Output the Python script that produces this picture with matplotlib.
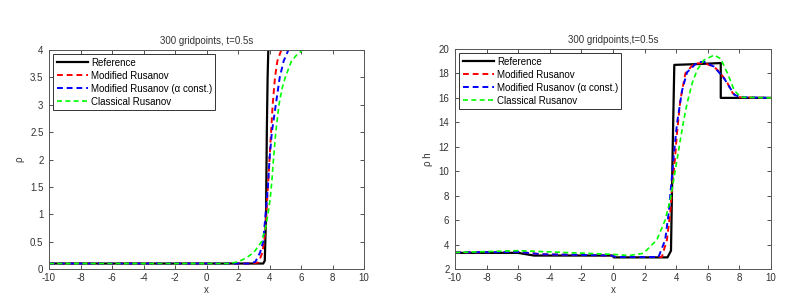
import matplotlib
matplotlib.use("Agg")
import matplotlib.pyplot as plt

plt.rcParams["font.family"] = ["Liberation Sans", "DejaVu Sans"]
plt.rcParams["font.size"] = 7
plt.rcParams["axes.unicode_minus"] = False

# left panel: density rho
ref_x_l = [-10, 3.6, 3.7, 3.78, 3.83, 3.88, 3.95]
ref_y_l = [0.1, 0.1, 0.15, 1.0, 2.5, 3.5, 4.3]
mod_x_l = [-10, 2.9, 3.3, 3.55, 3.7, 3.8, 3.9, 4.0, 4.1, 4.2, 4.35, 4.5, 4.75, 5.0]
mod_y_l = [0.1, 0.1, 0.12, 0.3, 0.6, 1.0, 1.5, 2.0, 2.5, 3.0, 3.5, 3.8, 4.0, 4.1]
mac_x_l = [-10, 2.7, 3.1, 3.4, 3.6, 3.75, 3.9, 4.0, 4.15, 4.4, 4.65, 4.9, 5.2, 5.5]
mac_y_l = [0.1, 0.1, 0.13, 0.3, 0.5, 1.0, 1.5, 2.0, 2.5, 3.0, 3.5, 3.8, 4.0, 4.1]
cla_x_l = [-10, 1.4, 2.0, 2.5, 3.0, 3.5, 3.75, 3.9, 4.05, 4.15, 4.25, 4.4, 4.6,
           4.8, 5.0, 5.4, 5.7, 6.1, 6.5]
cla_y_l = [0.1, 0.1, 0.13, 0.2, 0.3, 0.5, 0.75, 1.0, 1.3, 1.6, 2.0, 2.5, 3.0,
           3.3, 3.5, 3.8, 3.9, 4.0, 4.05]

# right panel: rho h
ref_x_r = [-10, -6, -5, -0.05, 0.05, 3.45, 3.67, 3.78, 3.88, 5.0, 6.82, 6.82, 10]
ref_y_r = [3.32, 3.32, 3.1, 3.1, 2.95, 2.95, 3.5, 12, 18.7, 18.75, 18.85, 16.0, 16.0]
mod_x_r = [-10, -6, -4.5, -2, -0.1, 0.2, 3.09, 3.41, 3.62, 3.73, 3.88, 4.05, 4.26,
           4.58, 5.12, 5.76, 6.4, 6.82, 7.25, 7.57, 7.9, 10]
mod_y_r = [3.35, 3.4, 3.2, 3.15, 3.1, 2.98, 2.98, 4.37, 6.55, 8.46, 10.4, 13.1, 15.8,
           18.0, 18.8, 18.85, 18.55, 18.0, 17.2, 16.4, 16.05, 16.0]
mac_x_r = [-10, -6, -4.5, -2, -0.1, 0.2, 2.88, 3.3, 3.52, 3.67, 3.84, 4.05, 4.37,
           4.69, 5.33, 5.76, 6.4, 7.03, 7.68, 8.1, 10]
mac_y_r = [3.35, 3.4, 3.2, 3.15, 3.1, 2.98, 2.98, 4.37, 6.55, 8.7, 11.2, 13.9, 16.6,
           18.1, 18.9, 18.96, 18.55, 17.6, 16.25, 16.05, 16.0]
cla_x_r = [-10, -6, -4, -1, 0, 1.0, 1.92, 2.77, 3.3, 3.62, 3.84, 4.05, 4.26, 4.48,
           4.69, 5.01, 5.33, 5.76, 6.4, 6.82, 7.25, 7.68, 8.1, 10]
cla_y_r = [3.35, 3.5, 3.4, 3.25, 3.2, 3.1, 3.28, 4.37, 6.0, 7.65, 9.3, 10.9, 12.55,
           14.2, 15.55, 17.2, 18.3, 19.1, 19.5, 19.2, 18.0, 16.6, 16.05, 16.0]

labels = ["Reference", "Modified Rusanov", "Modified Rusanov (α const.)",
          "Classical Rusanov"]

fig = plt.figure(figsize=(8.07, 3.0), dpi=100)
ax1 = fig.add_axes([49 / 807, 31 / 300, 315 / 807, 219 / 300])
ax2 = fig.add_axes([455 / 807, 31 / 300, 316 / 807, 220 / 300])

panels = [
    (ax1, [(ref_x_l, ref_y_l), (mod_x_l, mod_y_l), (mac_x_l, mac_y_l), (cla_x_l, cla_y_l)],
     (0, 4), [0, 0.5, 1, 1.5, 2, 2.5, 3, 3.5, 4], "ρ", "300 gridpoints, t=0.5s"),
    (ax2, [(ref_x_r, ref_y_r), (mod_x_r, mod_y_r), (mac_x_r, mac_y_r), (cla_x_r, cla_y_r)],
     (2, 20), list(range(2, 21, 2)), "ρ h", "300 gridpoints,t=0.5s"),
]

styles = [("black", "-", 1.6, None), ("red", "--", 1.4, (3, 2)),
          ("blue", "--", 1.4, (3, 2)), ("#00ff00", "--", 1.2, (3, 2))]

for ax, series, ylim, yticks, ylab, title in panels:
    for (xs, ys), (col, ls, lw, dash), lab in zip(series, styles, labels):
        line, = ax.plot(xs, ys, color=col, linestyle=ls, linewidth=lw, label=lab)
        if dash:
            line.set_dashes(dash)
    ax.set_xlim(-10, 10)
    ax.set_ylim(*ylim)
    ax.set_xticks(range(-10, 11, 2))
    ax.set_yticks(yticks)
    ax.set_yticklabels([f"{v:g}" for v in yticks])
    ax.tick_params(direction="in", length=3, width=0.6, colors="#333333",
                   labelsize=7, top=True, right=True)
    ax.tick_params(axis="x", pad=3)
    ax.tick_params(axis="y", pad=4)
    for sp in ax.spines.values():
        sp.set_color("#555555")
        sp.set_linewidth(0.7)
    ax.set_xlabel("x", fontsize=7, color="#333333", labelpad=1)
    ax.set_ylabel(ylab, fontsize=7, color="#333333", labelpad=4)
    ax.set_title(title, fontsize=7, color="#333333", pad=4)
    leg = ax.legend(loc="upper left", fancybox=False, framealpha=1,
                    edgecolor="#333333", fontsize=7, handlelength=3.2,
                    handletextpad=0.3, borderpad=0.35, labelspacing=0.3,
                    borderaxespad=0.45)
    leg.get_frame().set_linewidth(0.7)

fig.savefig("out.png", dpi=100)
